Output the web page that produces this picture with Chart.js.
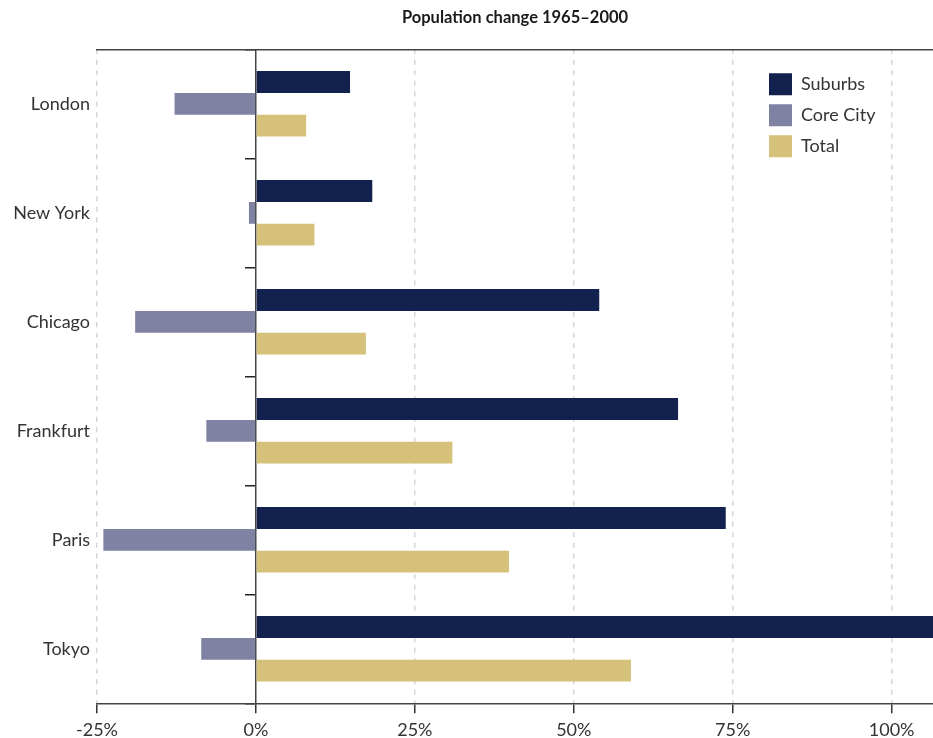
<!DOCTYPE html>
<html><head><meta charset="utf-8">
<script src="https://cdn.jsdelivr.net/npm/chart.js@4"></script>
<style>html,body{margin:0;padding:0;background:#fff}#wrap{width:933px;height:738px;position:relative}</style>
</head><body><div id="wrap"><canvas id="c"></canvas></div>
<script>
const cities = ['London', 'New York', 'Chicago', 'Frankfurt', 'Paris', 'Tokyo'];
const suburbs = [14.8, 18.3, 54.0, 66.4, 73.9, 110];
const coreCity = [-12.8, -1.1, -19.0, -7.8, -24.0, -8.6];
const total = [7.9, 9.2, 17.3, 30.9, 39.8, 59.0];
const seriesNames = ['Suburbs', 'Core City', 'Total'];
const seriesColors = ['#13214E', '#7F82A3', '#D5C179'];
const xMin = -25, xMax = 106.5, xStep = 25;
const titleText = 'Population change 1965\u20132000';

Chart.defaults.font.family = 'Lato, "Open Sans", sans-serif';
Chart.defaults.color = '#333';

const legendMover = {
  id: 'legendMover',
  afterLayout(chart) {
    const l = chart.legend, ca = chart.chartArea;
    if (!l) return;
    l.left = ca.right - 173;
    l.top = ca.top + 15;
    l.right = l.left + l.width;
    l.bottom = l.top + l.height;
  }
};

new Chart(document.getElementById('c'), {
  type: 'bar',
  data: {
    labels: cities,
    datasets: [suburbs, coreCity, total].map((d, i) => ({
      label: seriesNames[i],
      data: d,
      backgroundColor: seriesColors[i],
      borderWidth: 0,
      categoryPercentage: 0.6,
      barPercentage: 1.0,
      xAxisID: 'x',
      yAxisID: 'y'
    }))
  },
  options: {
    indexAxis: 'y',
    responsive: true,
    maintainAspectRatio: false,
    animation: false,
    layout: { padding: 0 },
    scales: {
      y: {
        type: 'category',
        position: 'left',
        offset: true,
        grid: { display: false, drawTicks: false },
        border: { display: false },
        ticks: { font: { size: 18 }, color: '#333', padding: 7 },
        afterFit(scale) { scale.width = 97; }
      },
      x: {
        type: 'linear',
        position: 'bottom',
        min: xMin, max: xMax,
        ticks: {
          stepSize: xStep,
          includeBounds: false,
          callback: v => v + '%',
          font: { size: 18, lineHeight: 1.1 },
          color: '#333',
          padding: 7,
          maxRotation: 0
        },
        grid: {
          color: ctx => (ctx.tick && ctx.tick.value === 0) ? 'rgba(0,0,0,0)' : '#d6d6d6',
          lineWidth: 1.5,
          tickColor: '#333',
          tickLength: 10,
          tickWidth: 1.5
        },
        border: { display: true, color: '#444', width: 1.5, dash: [5, 5.5] },
        afterFit(scale) { scale.height = 34.7; }
      },
      x2: {
        type: 'linear',
        axis: 'x',
        position: 'top',
        grid: { display: false, drawTicks: false },
        ticks: { display: false },
        border: { display: true, color: '#444', width: 1.5 }
      },
      y2: {
        type: 'category',
        axis: 'y',
        position: { x: 0 },
        offset: true,
        grid: { offset: true, drawOnChartArea: false, drawTicks: true, tickLength: 10, color: '#222', lineWidth: 1.5 },
        ticks: { display: false },
        border: { display: true, color: '#444', width: 1.5 }
      }
    },
    plugins: {
      title: {
        display: true,
        text: titleText,
        fullSize: false,
        color: '#1a1a1a',
        font: { size: 16.5, weight: 'bold' },
        padding: { top: 8, bottom: 21.5 }
      },
      legend: {
        position: 'chartArea',
        align: 'start',
        labels: {
          boxWidth: 23,
          boxHeight: 22,
          padding: 9,
          color: '#333',
          font: { size: 18 }
        }
      },
      tooltip: { enabled: false }
    }
  },
  plugins: [legendMover]
});
</script>
</body></html>
